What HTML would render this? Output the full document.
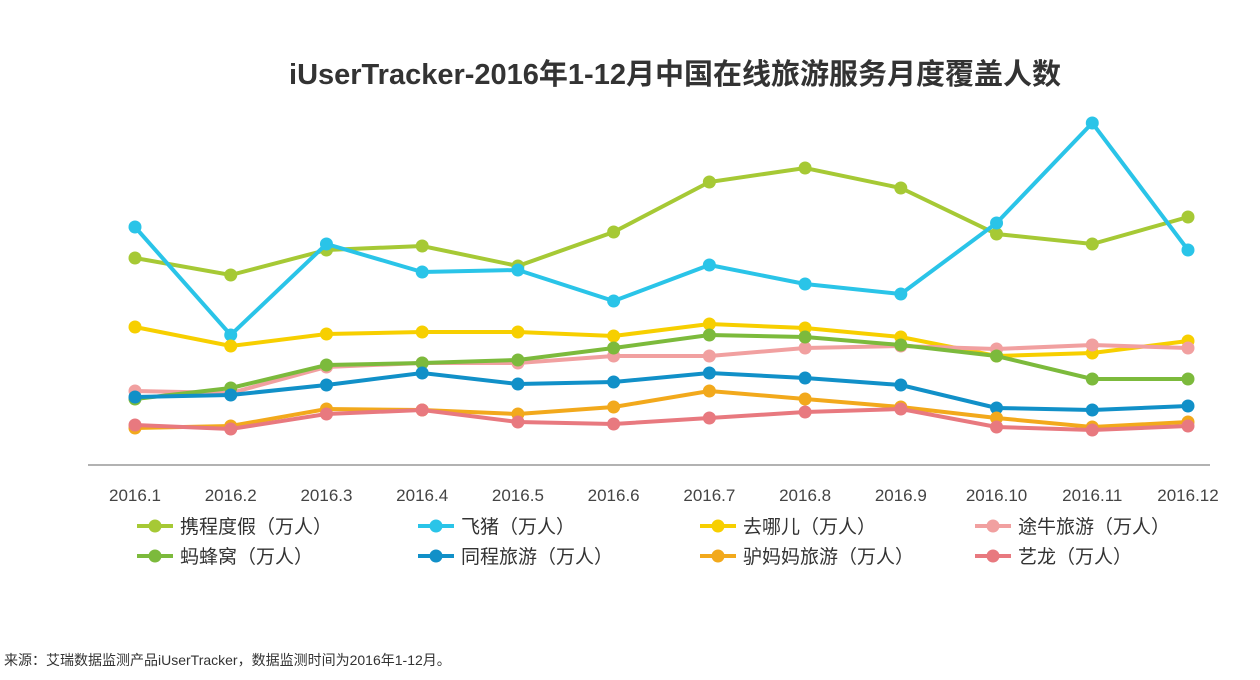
<!DOCTYPE html>
<html><head><meta charset="utf-8">
<style>
body{margin:0;background:#fff;width:1260px;height:675px;overflow:hidden;font-family:"Liberation Sans","Noto Sans CJK SC",sans-serif;}
svg text{font-family:"Liberation Sans","Noto Sans CJK SC",sans-serif;}
</style></head>
<body>
<svg id="chart" width="1260" height="675">
<text x="675" y="84" text-anchor="middle" font-size="29" font-weight="bold" fill="#333">iUserTracker-2016年1-12月中国在线旅游服务月度覆盖人数</text>
<line x1="88" y1="465" x2="1210" y2="465" stroke="#999" stroke-width="1.5"/>
<g id="xticks"></g>
<g id="series"></g>
<g id="legend"></g>
<text x="4" y="665" font-size="14" fill="#333">来源：艾瑞数据监测产品iUserTracker，数据监测时间为2016年1-12月。</text>
</svg>
<script>
const categories=["2016.1","2016.2","2016.3","2016.4","2016.5","2016.6","2016.7","2016.8","2016.9","2016.10","2016.11","2016.12"];
const seriesNames=["携程度假（万人）","飞猪（万人）","去哪儿（万人）","途牛旅游（万人）","蚂蜂窝（万人）","同程旅游（万人）","驴妈妈旅游（万人）","艺龙（万人）"];
const seriesColors=["#a6c935","#2ac4e8","#f7cf00","#f1a0a0","#7cba3c","#1190c8","#f2a91c","#e8797f"];
const ctrip=[207,190,215,219,199,233,283,297,277,231,221,248];
const fliggy=[238,130,221,193,195,164,200,181,171,242,342,215];
const qunar=[138,119,131,133,133,129,141,137,128,109,112,124];
const tuniu=[74,72,98,102,102,109,109,117,119,116,120,117];
const mafengwo=[66,77,100,102,105,117,130,128,120,109,86,86];
const tongcheng=[68,70,80,92,81,83,92,87,80,57,55,59];
const lvmama=[37,39,56,55,51,58,74,66,58,47,38,43];
const elong=[40,36,51,55,43,41,47,53,56,38,35,39];
const allSeries=[ctrip,fliggy,qunar,tuniu,mafengwo,tongcheng,lvmama,elong];
const NS="http://www.w3.org/2000/svg";
function xScale(i){return 135+i*(1188-135)/(categories.length-1);}
function yScale(v){return 465-v;}
const xt=document.getElementById('xticks');
categories.forEach((c,i)=>{const t=document.createElementNS(NS,'text');
t.setAttribute('x',xScale(i));t.setAttribute('y',501);t.setAttribute('text-anchor','middle');
t.setAttribute('font-size','17');t.setAttribute('fill','#444');t.textContent=c;


xt.appendChild(t);});
const sg=document.getElementById('series');
allSeries.forEach((vals,s)=>{const g=document.createElementNS(NS,'g');


const p=document.createElementNS(NS,'polyline');
p.setAttribute('points',vals.map((v,i)=>xScale(i)+','+yScale(v)).join(' '));
p.setAttribute('fill','none');p.setAttribute('stroke',seriesColors[s]);p.setAttribute('stroke-width','4');


g.appendChild(p);
vals.forEach((v,i)=>{const c=document.createElementNS(NS,'circle');
c.setAttribute('cx',xScale(i));c.setAttribute('cy',yScale(v));c.setAttribute('r','6.5');c.setAttribute('fill',seriesColors[s]);


g.appendChild(c);});
sg.appendChild(g);});
const lg=document.getElementById('legend');
const lx=[137,418,700,975],ly=[526,556];
seriesNames.forEach((n,s)=>{const x=lx[s%4],y=ly[Math.floor(s/4)];
const g=document.createElementNS(NS,'g');


const l=document.createElementNS(NS,'line');l.setAttribute('x1',x);l.setAttribute('x2',x+36);l.setAttribute('y1',y);l.setAttribute('y2',y);
l.setAttribute('stroke',seriesColors[s]);l.setAttribute('stroke-width','4');g.appendChild(l);
const c=document.createElementNS(NS,'circle');c.setAttribute('cx',x+18);c.setAttribute('cy',y);c.setAttribute('r','6.5');c.setAttribute('fill',seriesColors[s]);g.appendChild(c);
const t=document.createElementNS(NS,'text');t.setAttribute('x',x+43);t.setAttribute('y',y+7);t.setAttribute('font-size','19');t.setAttribute('fill','#333');t.textContent=n;g.appendChild(t);
lg.appendChild(g);});
</script>
</body></html>
